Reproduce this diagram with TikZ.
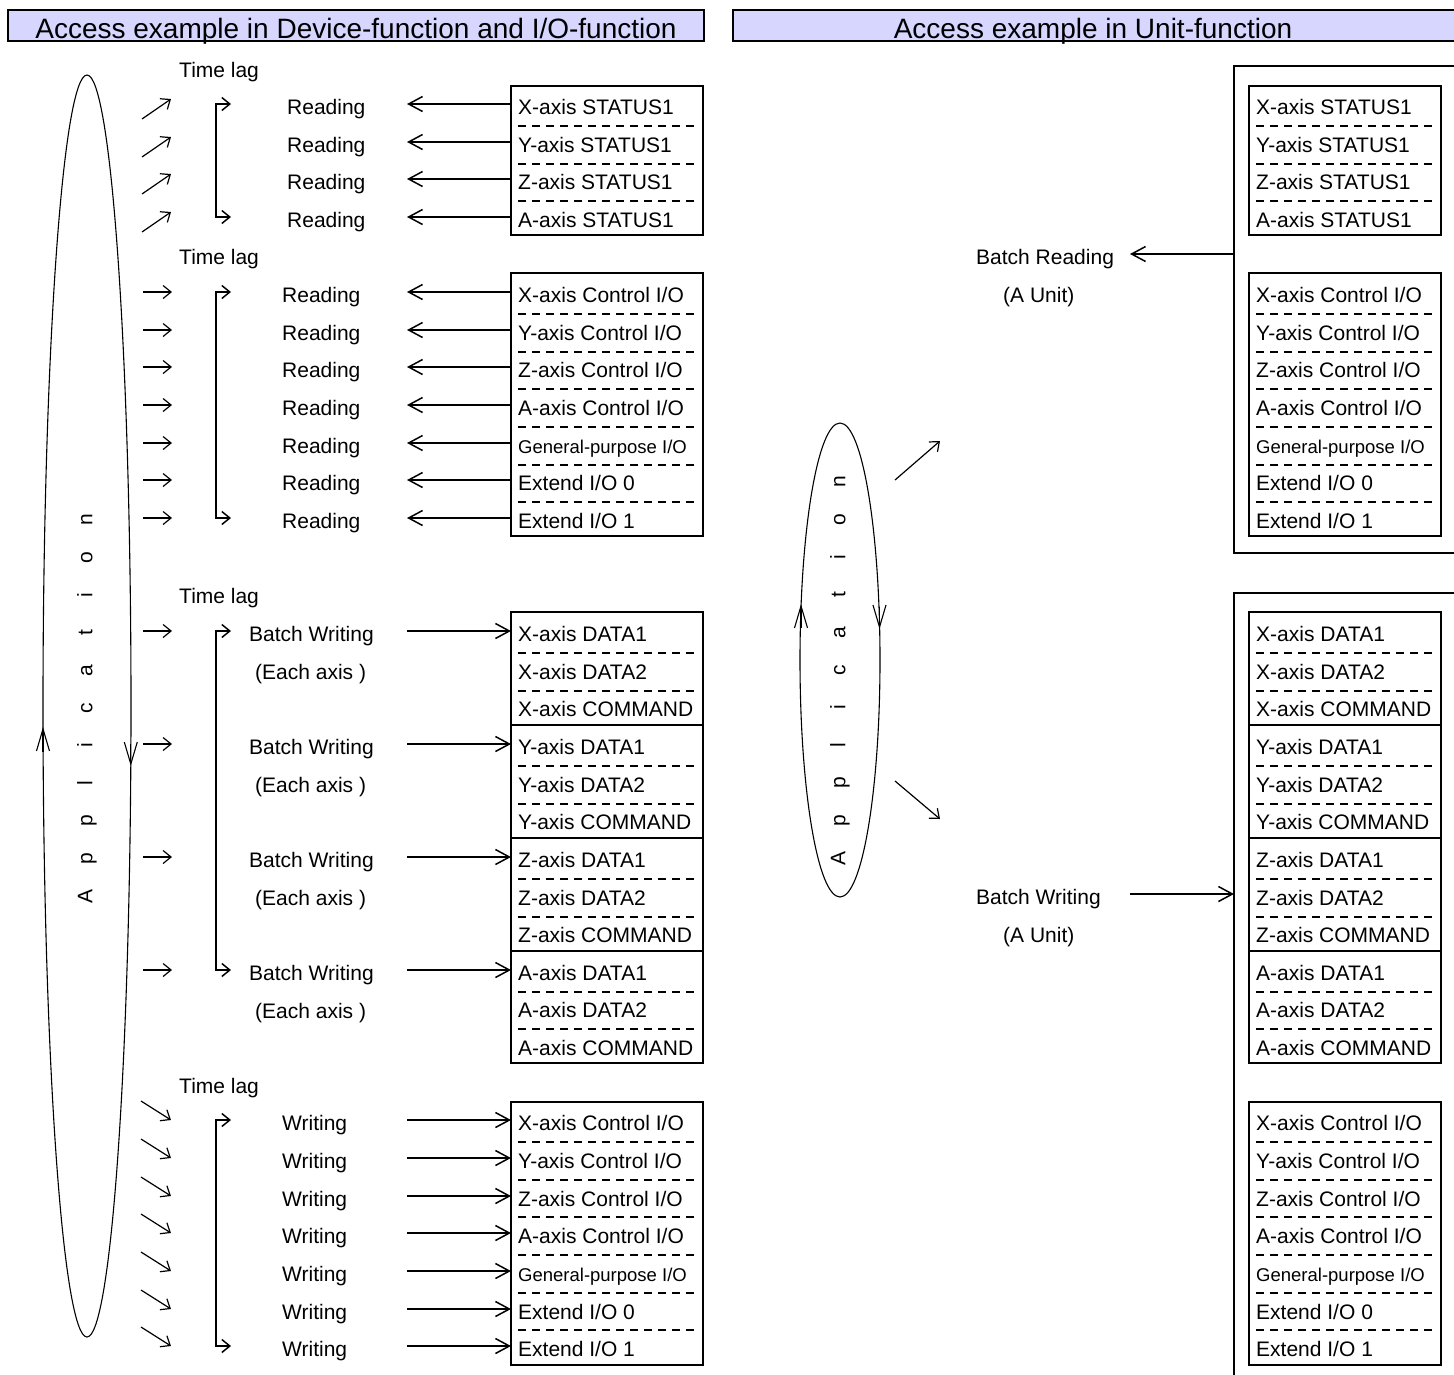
\documentclass[tikz,border=0pt]{standalone}
\usepackage{fontspec}
\setmainfont{Liberation Sans}
\usetikzlibrary{arrows.meta,shapes.geometric}
\definecolor{barfill}{RGB}{214,214,255}
\newcommand{\gptext}{{\fontsize{18.5}{22}\selectfont General-purpose I/O}}
\newcommand{\lt}[1]{\makebox[37.6pt]{#1}}
\newcommand{\apptext}{\lt{A}\lt{p}\lt{p}\lt{l}\lt{i}\lt{c}\lt{a}\lt{t}\lt{i}\lt{o}\lt{n}}
\begin{document}
\begin{tikzpicture}[x=1pt,y=-1pt,
  txt/.style={font=\fontsize{21}{25}\selectfont, inner sep=0pt, anchor=base west},
  titletxt/.style={font=\fontsize{28}{32}\selectfont, inner sep=0pt, anchor=base},
  apptxt/.style={font=\fontsize{21}{25}\selectfont, inner sep=0pt},
  boxline/.style={line width=1.8pt},
  sepdash/.style={line width=1.5pt, dash pattern=on 8pt off 6pt},
  conn/.style={line width=1.8pt, -{Straight Barb[length=14pt,width=15pt,line width=1.5pt]}},
  smallarr/.style={line width=1.2pt, -{Straight Barb[length=8pt,width=13pt,line width=1.2pt]}},
  brk/.style={line width=1.8pt, {Straight Barb[length=8pt,width=13pt,line width=1.5pt]}-{Straight Barb[length=8pt,width=13pt,line width=1.5pt]}},
  ell/.style={line width=1.1pt},
  ellarrow/.style={line width=1.1pt, -{Straight Barb[length=22pt,width=13pt,line width=1.1pt]}},
]
\useasboundingbox (0,0) rectangle (1454,1374);

% ---------- title bars ----------
\draw[line width=1.5pt, fill=barfill] (8,10) rectangle (704,41);
\node[titletxt] (titleL) at (356,38) {Access example in Device-function and I/O-function};
\fill[barfill] (733,10) rectangle (1460,41);
\draw[line width=1.5pt] (1460,10) -- (733,10) -- (733,41) -- (1460,41);
\node[titletxt] (titleR) at (1093,38) {Access example in Unit-function};

% ---------- left application ellipse ----------
\node[ellipse, draw, ell, minimum width=88pt, minimum height=1262pt, inner sep=0pt] (appL) at (87,706) {};
\node[apptxt, rotate=90] (appLt) at (87,708) {\apptext};
\coordinate (eLa) at (43,752); \coordinate (eLb) at (43,727);
\draw[ellarrow] (eLa) -- (eLb);
\coordinate (eLc) at (130.8,744); \coordinate (eLd) at (130.8,766);
\draw[ellarrow] (eLc) -- (eLd);

% ---------- right application ellipse ----------
\node[ellipse, draw, ell, minimum width=80pt, minimum height=474pt, inner sep=0pt] (appR) at (840,660) {};
\node[apptxt, rotate=90] (appRt) at (840,670) {\apptext};
\coordinate (eRa) at (801,628); \coordinate (eRb) at (801,604);
\draw[ellarrow] (eRa) -- (eRb);
\coordinate (eRc) at (879.5,607); \coordinate (eRd) at (879.5,629);
\draw[ellarrow] (eRc) -- (eRd);
\coordinate (dRa) at (895,480); \coordinate (dRb) at (940,441);
\draw[smallarr] (dRa) -- (dRb);
\coordinate (dRc) at (895,781); \coordinate (dRd) at (940,819);
\draw[smallarr] (dRc) -- (dRd);

% ---------- Time lag labels ----------
\node[txt] (tl1) at (179,77.5) {Time lag};
\node[txt] (tl2) at (179,264.5) {Time lag};
\node[txt] (tl3) at (179,603.5) {Time lag};
\node[txt] (tl4) at (179,1093.5) {Time lag};

% ---------- register boxes (both sides) ----------
\foreach \sd/\xo in {L/0,R/738}{
  % status box
  \draw[boxline] (511+\xo,86) rectangle (703+\xo,235);
  \foreach \y/\t [count=\i] in {107/{X-axis STATUS1},145/{Y-axis STATUS1},182/{Z-axis STATUS1},220/{A-axis STATUS1}}{
    \node[txt] (st\sd\i) at (518+\xo,\y+7.5) {\t};
  }
  \foreach \y in {126,164,201} \draw[sepdash] (518+\xo,\y) -- (697+\xo,\y);
  % control I/O box (read)
  \draw[boxline] (511+\xo,273) rectangle (703+\xo,536);
  \foreach \y/\t [count=\i] in {295/{X-axis Control I/O},333/{Y-axis Control I/O},370/{Z-axis Control I/O},408/{A-axis Control I/O},446/{\gptext},483/{Extend I/O 0},521/{Extend I/O 1}}{
    \node[txt] (ci\sd\i) at (518+\xo,\y+7.5) {\t};
  }
  \foreach \y in {314,352,389,427,465,502} \draw[sepdash] (518+\xo,\y) -- (697+\xo,\y);
  % data / command box
  \draw[boxline] (511+\xo,612) rectangle (703+\xo,1063);
  \foreach \y in {725,838,951} \draw[boxline] (511+\xo,\y) -- (703+\xo,\y);
  \foreach \y/\t [count=\i] in {634/{X-axis DATA1},672/{X-axis DATA2},709/{X-axis COMMAND},747/{Y-axis DATA1},785/{Y-axis DATA2},822/{Y-axis COMMAND},860/{Z-axis DATA1},898/{Z-axis DATA2},935/{Z-axis COMMAND},973/{A-axis DATA1},1010/{A-axis DATA2},1048/{A-axis COMMAND}}{
    \node[txt] (dt\sd\i) at (518+\xo,\y+7.5) {\t};
  }
  \foreach \y in {653,691,766,804,879,917,992,1029} \draw[sepdash] (518+\xo,\y) -- (697+\xo,\y);
  % control I/O box (write)
  \draw[boxline] (511+\xo,1102) rectangle (703+\xo,1365);
  \foreach \y/\t [count=\i] in {1123/{X-axis Control I/O},1161/{Y-axis Control I/O},1199/{Z-axis Control I/O},1236/{A-axis Control I/O},1274/{\gptext},1312/{Extend I/O 0},1349/{Extend I/O 1}}{
    \node[txt] (cw\sd\i) at (518+\xo,\y+7.5) {\t};
  }
  \foreach \y in {1142,1180,1217,1255,1293,1330} \draw[sepdash] (518+\xo,\y) -- (697+\xo,\y);
}

% ---------- left: group 1 (status reading) ----------
\foreach \y [count=\i] in {107,145,182,220}{
  \node[txt] (rdA\i) at (287,\y+7.5) {Reading};
  \coordinate (rdAs\i) at (511,\y-3); \coordinate (rdAe\i) at (407,\y-3);
  \draw[conn] (rdAs\i) -- (rdAe\i);
  \coordinate (saA\i) at (142,\y+12); \coordinate (sbA\i) at (171,\y-8);
  \draw[smallarr] (saA\i) -- (sbA\i);
}
\coordinate (bA1) at (231,104); \coordinate (bA2) at (216,104);
\coordinate (bA3) at (216,217); \coordinate (bA4) at (231,217);
\draw[brk] (bA1) -- (bA2) -- (bA3) -- (bA4);

% ---------- left: group 2 (control I/O reading) ----------
\foreach \y [count=\i] in {295,333,370,408,446,483,521}{
  \node[txt] (rdB\i) at (282,\y+7.5) {Reading};
  \coordinate (rdBs\i) at (511,\y-3); \coordinate (rdBe\i) at (407,\y-3);
  \draw[conn] (rdBs\i) -- (rdBe\i);
  \coordinate (saB\i) at (143,\y-3); \coordinate (sbB\i) at (172,\y-3);
  \draw[smallarr] (saB\i) -- (sbB\i);
}
\coordinate (bB1) at (231,292); \coordinate (bB2) at (216,292);
\coordinate (bB3) at (216,518); \coordinate (bB4) at (231,518);
\draw[brk] (bB1) -- (bB2) -- (bB3) -- (bB4);

% ---------- left: group 3 (batch writing each axis) ----------
\foreach \y [count=\i] in {634,747,860,973}{
  \node[txt] (bwC\i) at (249,\y+7.5) {Batch Writing};
  \node[txt] (eaC\i) at (255,\y+45) {(Each axis )};
  \coordinate (bwCs\i) at (407,\y-3); \coordinate (bwCe\i) at (511,\y-3);
  \draw[conn] (bwCs\i) -- (bwCe\i);
  \coordinate (saC\i) at (143,\y-3); \coordinate (sbC\i) at (172,\y-3);
  \draw[smallarr] (saC\i) -- (sbC\i);
}
\coordinate (bC1) at (231,631); \coordinate (bC2) at (216,631);
\coordinate (bC3) at (216,970); \coordinate (bC4) at (231,970);
\draw[brk] (bC1) -- (bC2) -- (bC3) -- (bC4);

% ---------- left: group 4 (control I/O writing) ----------
\foreach \y [count=\i] in {1123,1161,1199,1236,1274,1312,1349}{
  \node[txt] (wrD\i) at (282,\y+7.5) {Writing};
  \coordinate (wrDs\i) at (407,\y-3); \coordinate (wrDe\i) at (511,\y-3);
  \draw[conn] (wrDs\i) -- (wrDe\i);
  \coordinate (saD\i) at (141,\y-22); \coordinate (sbD\i) at (171,\y-3);
  \draw[smallarr] (saD\i) -- (sbD\i);
}
\coordinate (bD1) at (231,1120); \coordinate (bD2) at (216,1120);
\coordinate (bD3) at (216,1346); \coordinate (bD4) at (231,1346);
\draw[brk] (bD1) -- (bD2) -- (bD3) -- (bD4);

% ---------- right: unit brackets ----------
\coordinate (oR1) at (1460,66); \coordinate (oR2) at (1234,66);
\coordinate (oR3) at (1234,553); \coordinate (oR4) at (1460,553);
\draw[boxline] (oR1) -- (oR2) -- (oR3) -- (oR4);
\coordinate (oR5) at (1460,593); \coordinate (oR6) at (1234,593);
\coordinate (oR7) at (1234,1380);
\draw[boxline] (oR5) -- (oR6) -- (oR7);

\node[txt] (brR) at (976,264) {Batch Reading};
\node[txt] (auR1) at (1003,302) {(A Unit)};
\coordinate (brRs) at (1234,254); \coordinate (brRe) at (1130,254);
\draw[conn] (brRs) -- (brRe);

\node[txt] (bwR) at (976,904) {Batch Writing};
\node[txt] (auR2) at (1003,942) {(A Unit)};
\coordinate (bwRs) at (1130,894); \coordinate (bwRe) at (1234,894);
\draw[conn] (bwRs) -- (bwRe);
\end{tikzpicture}
\end{document}
